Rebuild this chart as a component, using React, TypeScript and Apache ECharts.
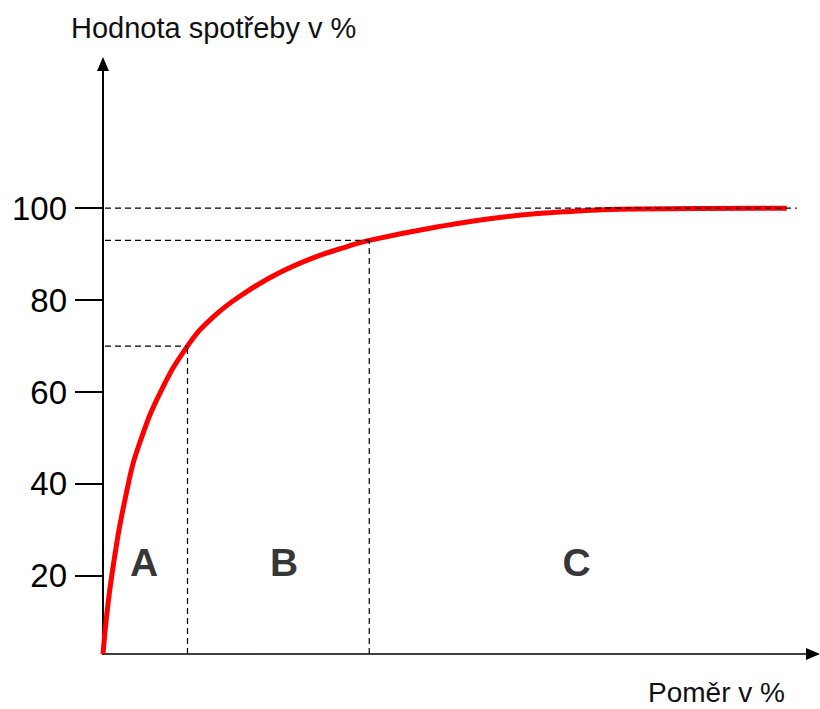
import React, { useEffect, useRef } from "react";
import * as echarts from "echarts";

// Curve: ratio (x, %) vs consumption value (y, %)
const ratioX = [0, 1.23, 3.56, 5.3, 8.1, 11.9, 15.5, 20.2, 24.9, 29.6, 34.3, 37.5, 47.0, 56.4, 65.8, 75.2, 96.3];
const consumption = [3, 20, 40, 49.5, 60, 70, 76.3, 81.8, 86.0, 89.2, 91.6, 93.0, 95.9, 98.1, 99.3, 99.8, 100];

// Y axis tick labels
const yTicks = [20, 40, 60, 80, 100];

// Thresholds (guide lines)
const thresholdA = 11.9;
const thresholdB = 37.5;
const levelA = 70;
const levelB = 93;
const levelMax = 100;
const levelMaxEnd = 97.7;
const guideStart = -3.94;
const axisBase = 3;

// Region labels
const regionNames = ["A", "B", "C"];
const regionX = [5.8, 25.5, 66.7];
const regionY = 22.8;

const yTitle = "Hodnota spotřeby v %";
const xTitle = "Poměr v %";

const FONT = '"Liberation Sans", Arial, sans-serif';

export default function App() {
  const ref = useRef<HTMLDivElement>(null);

  useEffect(() => {
    if (!ref.current) return;
    const chart = echarts.init(ref.current, undefined, { renderer: "svg" });

    const dashed = (pts: number[][]) => ({
      type: "line",
      data: pts,
      symbol: "none",
      clip: false,
      silent: true,
      z: 5,
      lineStyle: { color: "#000", width: 1.2, type: [6, 4] },
    });

    const option: any = {
      animation: false,
      backgroundColor: "#fff",
      grid: {
        left: 103,
        right: 7,
        top: 64,
        bottom: 55,
        containLabel: false,
        outerBoundsMode: "none",
      },
      xAxis: {
        type: "value",
        min: 0,
        max: 100,
        axisLine: {
          show: true,
          onZero: false,
          symbol: ["none", "triangle"],
          symbolSize: [12, 14],
          lineStyle: { color: "#000", width: 1.5 },
        },
        axisTick: { show: false },
        axisLabel: { show: false },
        splitLine: { show: false },
      },
      yAxis: {
        type: "value",
        min: axisBase,
        max: 131.37,
        axisLine: {
          show: true,
          onZero: false,
          symbol: ["none", "triangle"],
          symbolSize: [12, 14],
          lineStyle: { color: "#000", width: 2 },
        },
        axisTick: {
          show: true,
          length: 28,
          customValues: yTicks,
          lineStyle: { color: "#000", width: 2 },
        },
        axisLabel: {
          show: true,
          customValues: yTicks,
          margin: 36,
          fontSize: 33,
          fontFamily: FONT,
          color: "#000",
        },
        splitLine: { show: false },
      },
      series: [
        {
          type: "line",
          data: ratioX.map((x, i) => [x, consumption[i]]),
          smooth: 0.45,
          symbol: "none",
          clip: false,
          z: 3,
          lineStyle: { color: "#ff0000", width: 5 },
        },
        dashed([[guideStart, levelMax], [levelMaxEnd, levelMax]]),
        dashed([[guideStart, levelB], [thresholdB, levelB]]),
        dashed([[guideStart, levelA], [thresholdA, levelA]]),
        dashed([[thresholdA, axisBase], [thresholdA, levelA]]),
        dashed([[thresholdB, axisBase], [thresholdB, levelB]]),
        {
          type: "scatter",
          symbolSize: 0,
          silent: true,
          data: regionNames.map((n, i) => ({ name: n, value: [regionX[i], regionY] })),
          label: {
            show: true,
            position: "inside",
            formatter: (p: any) => p.name,
            fontSize: 39,
            fontWeight: "bold",
            fontFamily: FONT,
            color: "#000",
          },
        },
      ],
      graphic: [
        {
          type: "text",
          x: 71,
          y: 28,
          style: {
            text: yTitle,
            font: `29px ${FONT}`,
            fill: "#111",
            align: "left",
            verticalAlign: "middle",
          },
        },
        {
          type: "text",
          x: 648,
          y: 692,
          style: {
            text: xTitle,
            font: `28px ${FONT}`,
            fill: "#111",
            align: "left",
            verticalAlign: "middle",
          },
        },
      ],
    };

    chart.setOption(option);
    return () => chart.dispose();
  }, []);

  return (
    <div
      ref={ref}
      style={{ position: "fixed", left: 0, top: 0, width: 820, height: 709, background: "#fff" }}
    />
  );
}
